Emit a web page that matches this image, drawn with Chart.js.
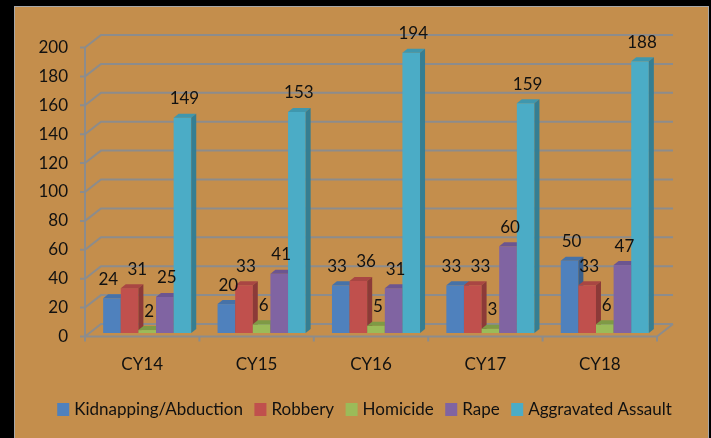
<!DOCTYPE html>
<html>
<head>
<meta charset="utf-8">
<script src="https://cdn.jsdelivr.net/npm/chart.js@4.4.1/dist/chart.umd.min.js"></script>
<style>
html, body { margin: 0; padding: 0; background: #000; }
#frame { position: absolute; left: 14px; top: 6px; width: 693px; height: 432px; background: #c48e4c;
  border-left: 1px solid #a8a8a8; border-top: 1px solid #a8a8a8; border-right: 1px solid #a8a8a8; }
canvas { position: absolute; left: 0; top: 0; }
</style>
</head>
<body>
<div id="frame"></div>
<canvas id="c" width="711" height="438"></canvas>
<script>
// data
const years = ["CY14", "CY15", "CY16", "CY17", "CY18"]
const names = ["Kidnapping/Abduction", "Robbery", "Homicide", "Rape", "Aggravated Assault"]
const kidnapping = [24, 20, 33, 33, 50]
const robbery = [31, 33, 36, 33, 33]
const homicide = [2, 6, 5, 3, 6]
const rape = [25, 41, 31, 60, 47]
const assault = [149, 153, 194, 159, 188]
const yMin = 0, yMax = 200, yStep = 20

// front, top, side colours of each series
const shades = [
  ["#4f81bd", "#4672a8", "#385e8b"],
  ["#c0504d", "#a94643", "#8c3a38"],
  ["#9bbb59", "#7e9a45", "#71893f"],
  ["#8064a2", "#6c5590", "#5d4977"],
  ["#4bacc6", "#3f97ae", "#357e92"]
]

// draws the 3d walls, the boxes and the value labels in place of the flat bars
const box3d = {
  id: "box3d",
  beforeDatasetsDraw(chart) {
    const ctx = chart.ctx, a = chart.chartArea, y = chart.scales.y
    const fy = v => y.getPixelForValue(v) + 3.5
    const by = v => y.getPixelForValue(v) - 9
    const fl = a.left - 5, fr = a.right - 5, dx = 16
    ctx.save()
    ctx.strokeStyle = "#8c8c8c"
    ctx.lineWidth = 2
    ctx.beginPath()
    for (let v = yMin; v <= yMax; v += yStep) {
      ctx.moveTo(fl - 5, fy(v))
      ctx.lineTo(fl, fy(v))
      ctx.lineTo(fl + dx, by(v))
      ctx.lineTo(fr + dx, by(v))
    }
    ctx.moveTo(fl, fy(yMax))
    ctx.lineTo(fl, fy(yMin))
    ctx.lineTo(fr, fy(yMin))
    ctx.lineTo(fr + dx, by(yMin))
    const step = a.width / years.length
    for (let k = 0; k <= years.length; k++) {
      ctx.moveTo(fl + k * step, fy(yMin))
      ctx.lineTo(fl + k * step, fy(yMin) + 5)
    }
    ctx.stroke()

    const ox = 5, oy = 4
    const groups = []
    for (let i = 0; i < years.length; i++) {
      const labels = []
      chart.data.datasets.forEach((ds, d) => {
        const el = chart.getDatasetMeta(d).data[i]
        const p = el.getProps(["x", "y", "base", "width"], true)
        const l = p.x - p.width / 2, r = p.x + p.width / 2, t = p.y, b = p.base
        const c = shades[d]
        ctx.fillStyle = c[0]
        ctx.fillRect(l, t, r - l, b - t)
        ctx.fillStyle = c[1]
        ctx.beginPath()
        ctx.moveTo(l, t); ctx.lineTo(l + ox, t - oy); ctx.lineTo(r + ox, t - oy); ctx.lineTo(r, t)
        ctx.closePath(); ctx.fill()
        ctx.fillStyle = c[2]
        ctx.beginPath()
        ctx.moveTo(r, t); ctx.lineTo(r + ox, t - oy); ctx.lineTo(r + ox, b - oy); ctx.lineTo(r, b)
        ctx.closePath(); ctx.fill()
        labels.push([ds.data[i], p.x + 2, t - 19])
      })
      groups.push(labels)
    }
    // push neighbouring labels apart when they would collide
    groups.forEach(labels => {
      for (let k = 1; k < labels.length; k++) {
        const A = labels[k - 1], B = labels[k]
        const gap = B[1] - A[1]
        if (Math.abs(B[2] - A[2]) < 16 && gap < 29) {
          A[1] -= (29 - gap) / 2
          B[1] += (29 - gap) / 2
        }
      }
    })
    ctx.fillStyle = "#111"
    ctx.font = "17px Lato"
    ctx.textAlign = "center"
    ctx.textBaseline = "middle"
    groups.flat().forEach(lb => ctx.fillText(lb[0], lb[1], lb[2]))
    ctx.restore()
    return false
  },
  // one-row legend under the axis
  afterDraw(chart) {
    const ctx = chart.ctx
    ctx.save()
    ctx.font = "17px Lato"
    ctx.textBaseline = "middle"
    ctx.textAlign = "left"
    const items = chart.data.datasets.map((ds, d) => [ds.label, ctx.measureText(ds.label).width, shades[d][0]])
    const total = items.reduce((s, it) => s + 17 + it[1], 0) + 11.5 * (items.length - 1)
    let x = 364.5 - total / 2
    const cy = 409.5
    items.forEach(it => {
      ctx.fillStyle = it[2]
      ctx.fillRect(x, cy - 6.5, 12, 13)
      ctx.fillStyle = "#111"
      ctx.fillText(it[0], x + 17, cy)
      x += 17 + it[1] + 11.5
    })
    ctx.restore()
  }
}

function draw() {
  Chart.defaults.font.family = "Lato"
  Chart.defaults.font.size = 17
  Chart.defaults.color = "#111"

  const series = [kidnapping, robbery, homicide, rape, assault]

  new Chart(document.getElementById("c"), {
    type: "bar",
    data: {
      labels: years,
      datasets: series.map((s, d) => ({
        label: names[d],
        data: s,
        backgroundColor: shades[d][0],
        borderWidth: 0
      }))
    },
    options: {
      responsive: false,
      animation: false,
      devicePixelRatio: 1,
      layout: { padding: { left: 20, right: 49, top: 44, bottom: 0 } },
      datasets: { bar: { categoryPercentage: 0.77, barPercentage: 1 } },
      scales: {
        x: {
          grid: { display: false, drawTicks: false },
          border: { display: false },
          ticks: { padding: 21, labelOffset: -5 },
          afterFit(s) { s.height = 105 }
        },
        y: {
          min: yMin, max: yMax,
          grid: { display: false, drawTicks: false },
          border: { display: false },
          ticks: { stepSize: yStep, padding: 22, labelOffset: 3.5 },
          afterFit(s) { s.width = 70 }
        }
      },
      plugins: {
        legend: { display: false },
        tooltip: { enabled: false }
      }
    },
    plugins: [box3d]
  })
}

document.fonts.load("17px Lato").then(draw, draw)
</script>
</body>
</html>
